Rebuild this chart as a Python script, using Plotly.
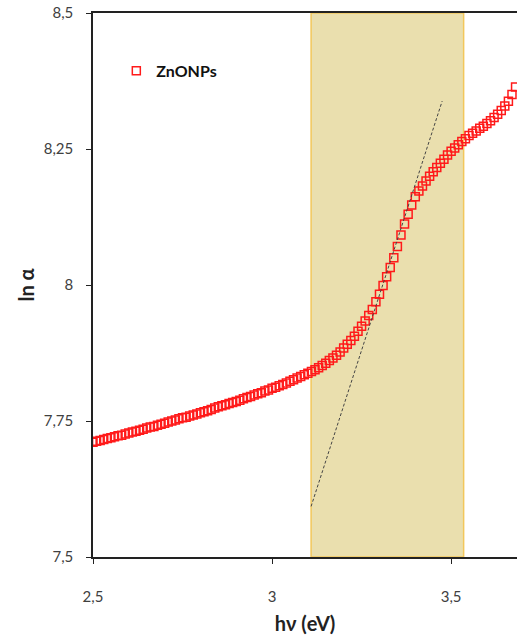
import plotly.graph_objects as go

# Photon energy (eV) and ln(alpha)
hv = [2.50, 2.51, 2.52, 2.53, 2.54, 2.55, 2.56, 2.57, 2.58, 2.59,
      2.60, 2.61, 2.62, 2.63, 2.64, 2.65, 2.66, 2.67, 2.68, 2.69,
      2.70, 2.71, 2.72, 2.73, 2.74, 2.75, 2.76, 2.77, 2.78, 2.79,
      2.80, 2.81, 2.82, 2.83, 2.84, 2.85, 2.86, 2.87, 2.88, 2.89,
      2.90, 2.91, 2.92, 2.93, 2.94, 2.95, 2.96, 2.97, 2.98, 2.99,
      3.00, 3.01, 3.02, 3.03, 3.04, 3.05, 3.06, 3.07, 3.08, 3.09,
      3.10, 3.11, 3.12, 3.13, 3.14, 3.15, 3.16, 3.17, 3.18, 3.19,
      3.20, 3.21, 3.22, 3.23, 3.24, 3.25, 3.26, 3.27, 3.28, 3.29,
      3.30, 3.31, 3.32, 3.33, 3.34, 3.35, 3.36, 3.37, 3.38, 3.39,
      3.40, 3.41, 3.42, 3.43, 3.44, 3.45, 3.46, 3.47, 3.48, 3.49,
      3.50, 3.51, 3.52, 3.53, 3.54, 3.55, 3.56, 3.57, 3.58, 3.59,
      3.60, 3.61, 3.62, 3.63, 3.64, 3.65, 3.66, 3.67, 3.68]

ln_alpha = [7.711, 7.713, 7.714, 7.716, 7.718, 7.719, 7.721, 7.723, 7.724, 7.726,
            7.728, 7.730, 7.731, 7.733, 7.735, 7.737, 7.739, 7.740, 7.742, 7.744,
            7.746, 7.748, 7.750, 7.752, 7.754, 7.756, 7.757, 7.759, 7.761, 7.763,
            7.765, 7.767, 7.769, 7.771, 7.774, 7.776, 7.778, 7.780, 7.782, 7.784,
            7.786, 7.788, 7.791, 7.793, 7.795, 7.798, 7.800, 7.802, 7.805, 7.807,
            7.810, 7.812, 7.815, 7.817, 7.820, 7.823, 7.826, 7.829, 7.832, 7.835,
            7.838, 7.841, 7.844, 7.848, 7.852, 7.856, 7.861, 7.866, 7.871, 7.877,
            7.884, 7.891, 7.898, 7.906, 7.915, 7.924, 7.934, 7.944, 7.955, 7.969,
            7.983, 7.999, 8.015, 8.032, 8.050, 8.071, 8.092, 8.112, 8.130, 8.147,
            8.162, 8.173, 8.182, 8.191, 8.200, 8.208, 8.216, 8.224, 8.231, 8.239,
            8.246, 8.252, 8.258, 8.264, 8.269, 8.275, 8.279, 8.283, 8.288, 8.292,
            8.297, 8.302, 8.308, 8.314, 8.321, 8.329, 8.338, 8.350, 8.364]

# Tangent (dashed) line endpoints
fit_x = [3.109, 3.475]
fit_y = [7.593, 8.338]

# Highlighted band
band_x = [3.109, 3.535]

# Tick labels
x_tickvals = [2.5, 3.0, 3.5]
x_ticktext = ["2,5", "3", "3,5"]
y_tickvals = [7.5, 7.75, 8.0, 8.25, 8.5]
y_ticktext = ["7,5", "7,75", "8", "8,25", "8,5"]

FONT = "Lato, 'Open Sans', sans-serif"

fig = go.Figure()

fig.add_shape(type="rect", xref="x", yref="y",
              x0=band_x[0], x1=band_x[1], y0=7.5, y1=8.5,
              fillcolor="#EADFAE", line=dict(color="#F2C75C", width=1.5),
              layer="below")

fig.add_trace(go.Scatter(
    x=hv, y=ln_alpha, mode="markers", name="<b>ZnONPs</b>",
    marker=dict(symbol="square-open", size=8, color="#FF1A1A",
                line=dict(width=1.5, color="#FF1A1A")),
))

fig.add_trace(go.Scatter(
    x=fit_x, y=fit_y, mode="lines", showlegend=False,
    line=dict(color="#444444", width=1, dash="3px,2px"),
))

fig.update_layout(
    width=517, height=641,
    margin=dict(l=93, r=0, t=13, b=84, autoexpand=False),
    paper_bgcolor="white", plot_bgcolor="white",
    font=dict(family=FONT, color="#404040", size=14),
    showlegend=True,
    legend=dict(x=0.055, y=0.925, xanchor="left", yanchor="top",
                bgcolor="rgba(0,0,0,0)",
                font=dict(family=FONT, size=16, color="#111111"),
                itemwidth=30),
)

fig.update_xaxes(
    range=[2.5, 3.684], showgrid=False, zeroline=False,
    showline=True, linecolor="#222222", linewidth=1.5, mirror=True,
    ticks="outside", ticklen=5, tickcolor="#222222", tickwidth=1.2,
    tickvals=x_tickvals, ticktext=x_ticktext, ticklabelstandoff=20,
    tickfont=dict(size=15, color="#404040"),
    title=dict(text="<b>hν (eV)</b>", font=dict(size=20, color="#222222"),
               standoff=13),
)
fig.update_yaxes(
    range=[7.5, 8.5], showgrid=False, zeroline=False,
    showline=True, linecolor="#222222", linewidth=1.5,
    ticks="outside", ticklen=5, tickcolor="#222222", tickwidth=1.2,
    tickvals=y_tickvals, ticktext=y_ticktext, ticklabelstandoff=10,
    tickfont=dict(size=15, color="#404040"),
    title=dict(text="<b>ln α</b>", font=dict(size=20, color="#222222"),
               standoff=4),
)

fig.write_html(
    "out.html",
    config={"displayModeBar": False},
    post_script="document.body.style.margin='0';document.body.style.overflow='hidden';",
)
